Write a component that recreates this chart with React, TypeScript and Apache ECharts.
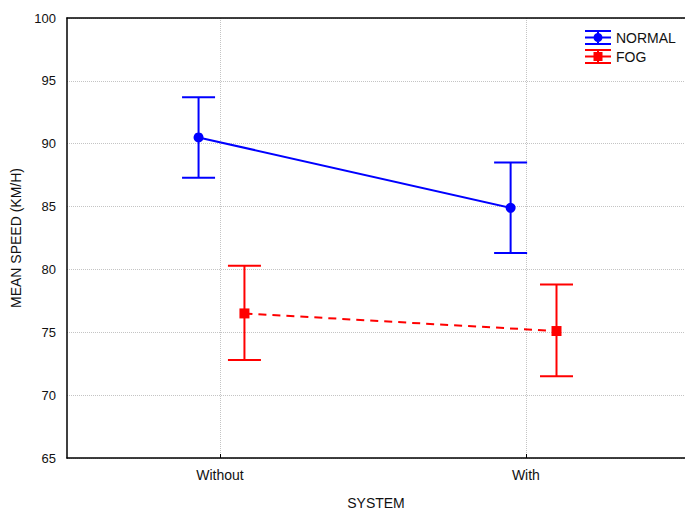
import React, { useEffect, useRef } from "react";
import * as echarts from "echarts";

const categories = ["Without", "With"];
const seriesNames = ["NORMAL", "FOG"];
// plotted x positions (category index with slight horizontal offset as in the original)
const normalX = [-0.07, 0.95];
const fogX = [0.08, 1.1];
const normalMean = [90.5, 84.9];
const normalLow = [87.3, 81.3];
const normalHigh = [93.7, 88.5];
const fogMean = [76.5, 75.1];
const fogLow = [72.8, 71.5];
const fogHigh = [80.3, 78.8];
const yTicks = [65, 70, 75, 80, 85, 90, 95, 100];

const BLUE = "#0000ff";
const RED = "#ff0000";
const FONT = "'Liberation Sans', Arial, sans-serif";

const normalIcon =
  "path://M0,0H26V2H0Z M0,6.5H26V8.5H0Z M0,13H26V15H0Z M12,0H14V15H12Z M8.5,7.5A4.5,4.5 0 1,1 17.5,7.5A4.5,4.5 0 1,1 8.5,7.5Z";
const fogIcon =
  "path://M0,0H26V2H0Z M0,6.5H26V8.5H0Z M0,13H26V15H0Z M12,0H14V15H12Z M8.5,3H17.5V12H8.5Z";

function errorBarRender(color: string) {
  return (params: any, api: any) => {
    const x = api.value(0);
    const lo = api.coord([x, api.value(1)]);
    const hi = api.coord([x, api.value(2)]);
    const hw = 16.5;
    const style = { stroke: color, lineWidth: 2 };
    return {
      type: "group",
      children: [
        { type: "line", shape: { x1: lo[0], y1: lo[1], x2: hi[0], y2: hi[1] }, style },
        { type: "line", shape: { x1: hi[0] - hw, y1: hi[1], x2: hi[0] + hw, y2: hi[1] }, style },
        { type: "line", shape: { x1: lo[0] - hw, y1: lo[1], x2: lo[0] + hw, y2: lo[1] }, style },
      ],
    };
  };
}

export default function App() {
  const ref = useRef<HTMLDivElement>(null);
  useEffect(() => {
    if (!ref.current) return;
    const chart = echarts.init(ref.current, null, { renderer: "svg" });
    const normalLine = normalX.map((x, i) => [x, normalMean[i]]);
    const fogLine = fogX.map((x, i) => [x, fogMean[i]]);
    const normalErr = normalX.map((x, i) => [x, normalLow[i], normalHigh[i]]);
    const fogErr = fogX.map((x, i) => [x, fogLow[i], fogHigh[i]]);
    chart.setOption({
      animation: false,
      textStyle: { fontFamily: FONT },
      grid: { left: 67, top: 18, right: 0, height: 446 },
      legend: {
        orient: "vertical",
        left: 585,
        top: 30,
        padding: 0,
        itemWidth: 26,
        itemHeight: 15,
        itemGap: 4,
        textStyle: { fontFamily: FONT, fontSize: 14, color: "#111" },
        data: [
          { name: seriesNames[0], icon: normalIcon },
          { name: seriesNames[1], icon: fogIcon },
        ],
      },
      xAxis: [
        {
          type: "value",
          min: -0.5,
          max: 1.52,
          name: "SYSTEM",
          nameLocation: "middle",
          nameGap: 38,
          nameTextStyle: { fontFamily: FONT, fontSize: 14, color: "#111" },
          axisLine: { onZero: false, lineStyle: { color: "#000", width: 1.5 } },
          axisTick: { show: true, inside: true, length: 4, customValues: [0, 1], lineStyle: { color: "#000" } },
          axisLabel: {
            customValues: [0, 1],
            margin: 10,
            fontFamily: FONT,
            fontSize: 14,
            color: "#111",
            formatter: (v: number) => categories[Math.round(v)] ?? "",
          },
          splitLine: { show: true, lineStyle: { color: "#c4c4c4", type: "dotted", width: 1 } },
        },
        {
          type: "value",
          position: "top",
          min: -0.5,
          max: 1.52,
          axisLine: { show: true, onZero: false, lineStyle: { color: "#000", width: 1.5 } },
          axisTick: { show: false },
          axisLabel: { show: false },
          splitLine: { show: false },
        },
      ],
      yAxis: {
        type: "value",
        min: yTicks[0],
        max: yTicks[yTicks.length - 1],
        interval: 5,
        name: "MEAN SPEED (KM/H)",
        nameLocation: "middle",
        nameGap: 40,
        nameTextStyle: { fontFamily: FONT, fontSize: 14, color: "#111" },
        axisLine: { show: true, onZero: false, lineStyle: { color: "#000", width: 1.5 } },
        axisTick: { show: false },
        axisLabel: { margin: 11, fontFamily: FONT, fontSize: 13, color: "#111" },
        splitLine: { show: true, lineStyle: { color: "#c4c4c4", type: "dotted", width: 1 } },
      },
      series: [
        {
          name: seriesNames[0],
          type: "custom",
          renderItem: errorBarRender(BLUE),
          data: normalErr,
          encode: { x: 0, y: [1, 2] },
          itemStyle: { color: BLUE },
          z: 3,
        },
        {
          name: seriesNames[1],
          type: "custom",
          renderItem: errorBarRender(RED),
          data: fogErr,
          encode: { x: 0, y: [1, 2] },
          itemStyle: { color: RED },
          z: 3,
        },
        {
          name: seriesNames[0],
          type: "line",
          data: normalLine,
          symbol: "circle",
          symbolSize: 10,
          itemStyle: { color: BLUE },
          lineStyle: { color: BLUE, width: 2 },
          z: 4,
        },
        {
          name: seriesNames[1],
          type: "line",
          data: fogLine,
          symbol: "rect",
          symbolSize: 10,
          itemStyle: { color: RED },
          lineStyle: { color: RED, width: 2, type: [8, 6] },
          z: 4,
        },
      ],
    });
    return () => chart.dispose();
  }, []);
  return (
    <div
      ref={ref}
      style={{ position: "absolute", left: 0, top: 0, width: 685, height: 515, background: "#fff" }}
    />
  );
}
